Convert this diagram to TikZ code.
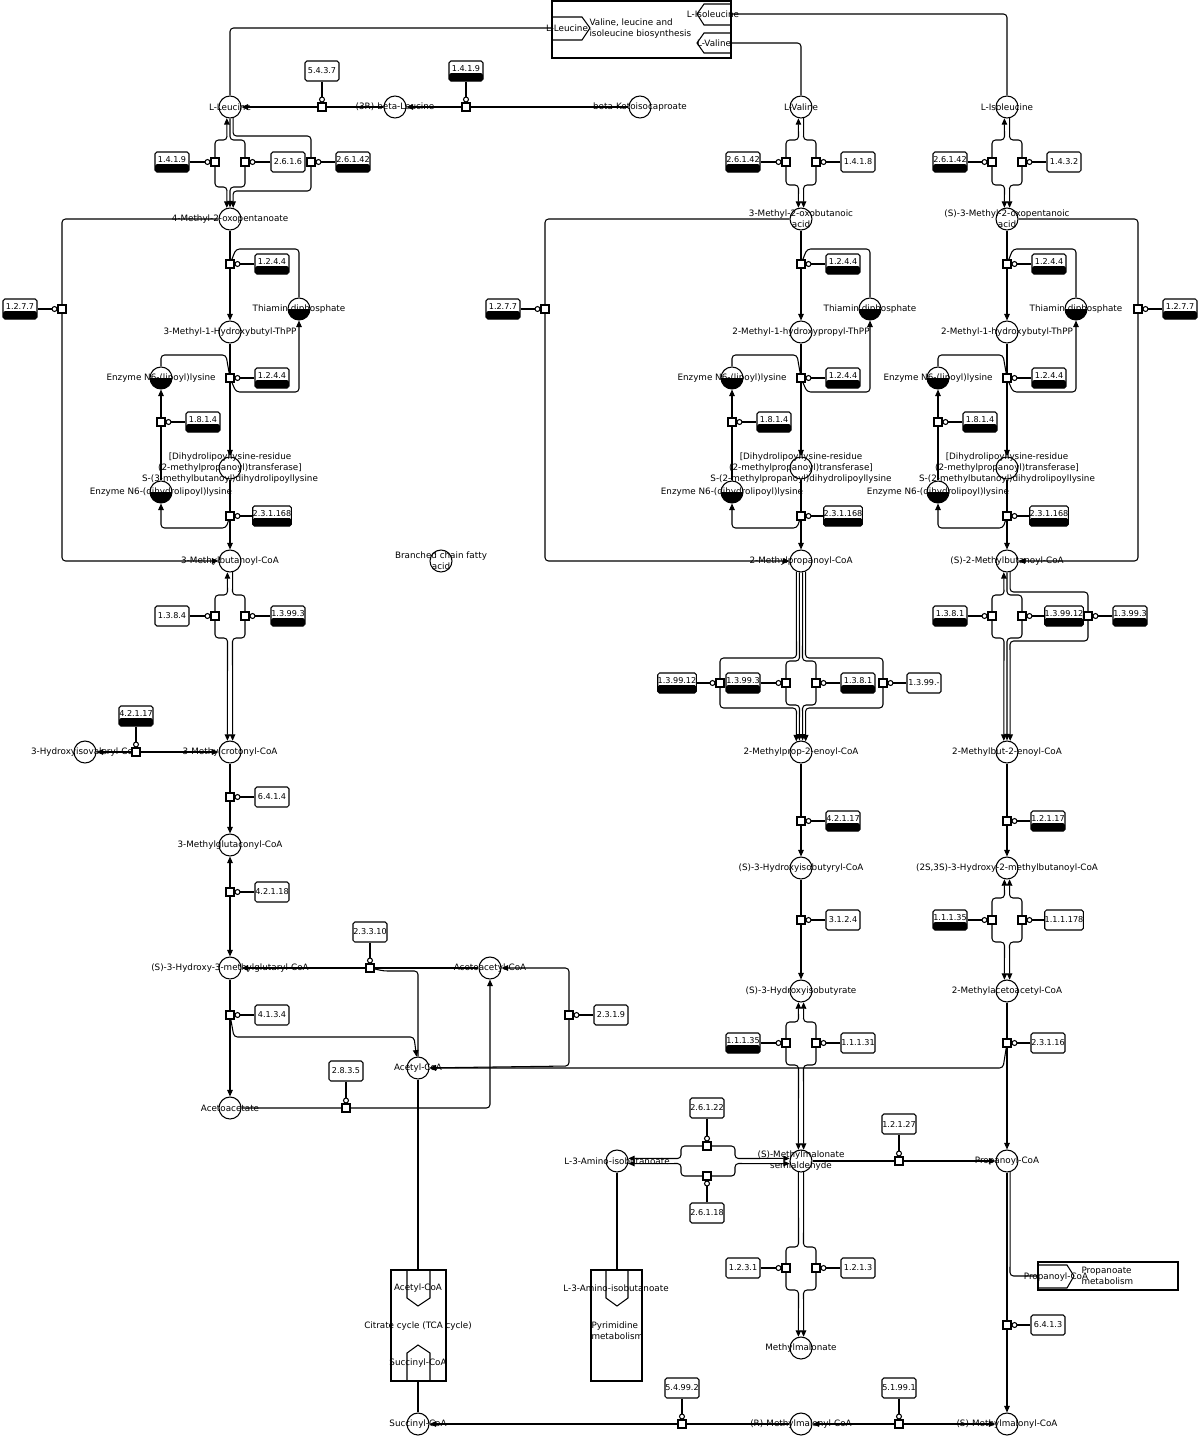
\documentclass[tikz,border=0pt]{standalone}
\usepackage{fontspec}
\setmainfont{DejaVu Sans}
\usetikzlibrary{arrows.meta}
\newcommand\pwfont{\fontsize{5}{6.2}\selectfont}
\newcommand\ecfont{\fontsize{4.6}{5.5}\selectfont}

\begin{document}
\begin{tikzpicture}[x=0.02cm,y=-0.02cm,line width=0.6pt,
  every node/.append style={font=\pwfont},
  >={Triangle[length=0.13cm,width=0.11cm]},
  cpd/.style={circle,draw,minimum size=0.44cm,inner sep=0pt},
  half/.style={cpd,path picture={\fill (path picture bounding box.west) rectangle (path picture bounding box.south east);}},
  enz/.style={draw,rounded corners=1pt,minimum width=0.68cm,minimum height=0.4cm,inner sep=0pt,font=\ecfont},
  enzb/.style={enz,text height=3.4pt,text depth=2.4pt,path picture={\fill (path picture bounding box.south west) rectangle ([yshift=0.16cm]path picture bounding box.south east);}},
  rxn/.style={draw,fill=white,minimum size=0.16cm,inner sep=0pt},
  mod/.style={-{Circle[open,length=0.12cm]}},
  br/.style={rounded corners=2pt}]
\useasboundingbox (0,0) rectangle (1200,1437);

% map links
\draw (552,1) rectangle (731,58);
\draw (552,17) -- (582,17) -- (590,28) -- (582,40) -- (552,40);
\draw (731,4) -- (704,4) -- (697,14) -- (704,25) -- (731,25);
\draw (731,33) -- (704,33) -- (697,43) -- (704,53) -- (731,53);
\node (tLeu) at (567,28) {L-Leucine};
\node (tIle) at (713,14) {L-Isoleucine};
\node (tVal) at (714,43) {L-Valine};
\node[anchor=west,align=left,inner sep=0pt] (mapVLI) at (589,29) {Valine, leucine and\\isoleucine biosynthesis};
\coordinate (inLeu) at (552,28);
\coordinate (outIle) at (731,14);
\coordinate (outVal) at (731,43);

\draw (391,1270) rectangle (446,1381);
\draw (407,1270) -- (407,1298) -- (418,1306) -- (430,1298) -- (430,1270);
\draw (407,1381) -- (407,1353) -- (418,1345) -- (430,1353) -- (430,1381);
\node (tAcCoA) at (418,1288) {Acetyl-CoA};
\node (tSucc) at (418,1363) {Succinyl-CoA};
\node (tca) at (418,1326) {Citrate cycle (TCA cycle)};
\coordinate (tcaIn) at (418,1270);
\coordinate (tcaOut) at (418,1381);

\draw (591,1270) rectangle (642,1381);
\draw (606,1270) -- (606,1298) -- (617,1306) -- (628,1298) -- (628,1270);
\node (tAib) at (616,1288) {L-3-Amino-isobutanoate};
\node[anchor=west,align=left,inner sep=0pt] (pyr) at (591,1331) {Pyrimidine\\metabolism};
\coordinate (pyrIn) at (617,1270);

\draw (1038,1262) rectangle (1178,1290);
\draw (1038,1265) -- (1067,1265) -- (1074,1276) -- (1067,1288) -- (1038,1288);
\node (tProp) at (1056,1277) {Propanoyl-CoA};
\node[anchor=west,align=left,inner sep=0pt] (propm) at (1081,1276) {Propanoate\\metabolism};
\coordinate (inProp) at (1038,1276);

% compounds
\node[cpd,label={center:L-Leucine}] (leu) at (230,107) {};
\node[cpd,label={center:{(3R)-beta-Leucine}}] (bleu) at (395,107) {};
\node[cpd,label={center:beta-Ketoisocaproate}] (kic) at (640,107) {};
\node[cpd,label={center:L-Valine}] (val) at (801,107) {};
\node[cpd,label={center:L-Isoleucine}] (ile) at (1007,107) {};
\node[cpd,label={center:4-Methyl-2-oxopentanoate}] (koA) at (230,219) {};
\node[cpd,label={[align=center]center:{3-Methyl-2-oxobutanoic\\acid}}] (koB) at (801,219) {};
\node[cpd,label={[align=center]center:{(S)-3-Methyl-2-oxopentanoic\\acid}}] (koC) at (1007,219) {};
\node[cpd,label={center:3-Methylbutanoyl-CoA}] (acA) at (230,561) {};
\node[cpd,label={center:2-Methylpropanoyl-CoA}] (acB) at (801,561) {};
\node[cpd,label={center:{(S)-2-Methylbutanoyl-CoA}}] (acC) at (1007,561) {};
\node[cpd,label={[align=center]center:{Branched chain fatty\\acid}}] (bcfa) at (441,561) {};
\node[cpd,label={center:3-Methylcrotonyl-CoA}] (mcc) at (230,752) {};
\node[cpd,label={center:3-Hydroxyisovaleryl-CoA}] (hiv) at (85,752) {};
\node[cpd,label={center:3-Methylglutaconyl-CoA}] (mgc) at (230,845) {};
\node[cpd,label={center:{(S)-3-Hydroxy-3-methylglutaryl-CoA}}] (hmg) at (230,968) {};
\node[cpd,label={center:Acetoacetyl-CoA}] (aacoa) at (490,968) {};
\node[cpd,label={center:Acetyl-CoA}] (acoa) at (418,1068) {};
\node[cpd,label={center:Acetoacetate}] (aca) at (230,1108) {};
\node[cpd,label={center:Succinyl-CoA}] (succ) at (418,1424) {};
\node[cpd,label={center:2-Methylprop-2-enoyl-CoA}] (mpe) at (801,752) {};
\node[cpd,label={center:{(S)-3-Hydroxyisobutyryl-CoA}}] (hibcoa) at (801,868) {};
\node[cpd,label={center:{(S)-3-Hydroxyisobutyrate}}] (hib) at (801,991) {};
\node[cpd,label={[align=center]center:{(S)-Methylmalonate\\semialdehyde}}] (mmsa) at (801,1161) {};
\node[cpd,label={center:L-3-Amino-isobutanoate}] (aib) at (617,1161) {};
\node[cpd,label={center:Methylmalonate}] (mma) at (801,1348) {};
\node[cpd,label={center:{(R)-Methylmalonyl-CoA}}] (rmm) at (801,1424) {};
\node[cpd,label={center:2-Methylbut-2-enoyl-CoA}] (mbe) at (1007,752) {};
\node[cpd,label={center:{(2S,3S)-3-Hydroxy-2-methylbutanoyl-CoA}}] (hmb) at (1007,868) {};
\node[cpd,label={center:2-Methylacetoacetyl-CoA}] (mac) at (1007,991) {};
\node[cpd,label={center:Propanoyl-CoA}] (ppcoa) at (1007,1161) {};
\node[cpd,label={center:{(S)-Methylmalonyl-CoA}}] (smm) at (1007,1424) {};

% enzymes
\foreach \n/\x/\y/\t in {e1419a/466/71/1.4.1.9, e1419b/172/162/1.4.1.9, e26142a/353/162/2.6.1.42,
  e1277a/20/309/1.2.7.7, e13993a/288/616/1.3.99.3, e42117a/136/716/4.2.1.17,
  e26142b/743/162/2.6.1.42, e1277b/503/309/1.2.7.7, e139912a/677/683/1.3.99.12,
  e13993b/743/683/1.3.99.3, e1381a/858/683/1.3.8.1, e42117b/843/821/4.2.1.17,
  e11135a/743/1043/1.1.1.35, e26142c/950/162/2.6.1.42, e1277c/1180/309/1.2.7.7,
  e1381b/950/616/1.3.8.1, e139912b/1064/616/1.3.99.12, e13993c/1130/616/1.3.99.3,
  e12117/1048/821/1.2.1.17, e11135b/950/920/1.1.1.35}
  \node[enzb] (\n) at (\x,\y) {\t};
\foreach \n/\x/\y/\t in {e5437/322/71/5.4.3.7, e2616/288/162/2.6.1.6, e1384/172/616/1.3.8.4,
  e6414/272/797/6.4.1.4, e42118/272/892/4.2.1.18, e23310/370/932/2.3.3.10,
  e4134/272/1015/4.1.3.4, e2319/611/1015/2.3.1.9, e2835/346/1071/2.8.3.5,
  e1418/858/162/1.4.1.8, e1399x/924/683/1.3.99.-, e3124/843/920/3.1.2.4,
  e11131/858/1043/1.1.1.31, e26122/707/1108/2.6.1.22, e26118/707/1213/2.6.1.18,
  e12127/899/1124/1.2.1.27, e1231/743/1268/1.2.3.1, e1213/858/1268/1.2.1.3,
  e54992/682/1388/5.4.99.2, e51991/899/1388/5.1.99.1, e1432/1064/162/1.4.3.2,
  e111178/1064/920/1.1.1.178, e23116/1048/1043/2.3.1.16, e6413/1048/1325/6.4.1.3}
  \node[enz] (\n) at (\x,\y) {\t};

% links to the maps
\draw[br] (leu) |- (inLeu);
\draw[br] (outIle) -| (ile);
\draw[br] (outVal) -| (val);
\draw (acoa) -- (tcaIn);
\draw (tcaOut) -- (succ);
\draw (aib) -- (pyrIn);
\draw[br] (ppcoa.-74) -- (1010,1276) -- (inProp);

% leucine
\draw[->] (bleu) -- (leu);
\draw[->] (kic) -- (bleu);
\draw[br,<->] (leu.-106) -- (227,140) -- (215,140) -- (215,187) -- (227,187) -- (koA.106);
\draw[br,->] (leu.south) -- (230,140) -- (245,140) -- (245,187) -- (230,187) -- (koA.north);
\draw[br,->] (leu.-74) -- (233,136) -- (311,136) -- (311,191) -- (233,191) -- (koA.74);
\draw[br,->] (koA) -- (62,219) -- (62,561) -- (acA);
\draw[br,<->] (acA.-103) -- (227.5,595) -- (215,595) -- (215,638) -- (227.5,638) -- (mcc.103);
\draw[br,->] (acA.-77) -- (232.5,595) -- (245,595) -- (245,638) -- (232.5,638) -- (mcc.77);
\draw[<->] (hiv) -- (mcc);
\draw[->] (mcc) -- (mgc);
\draw[<->] (mgc) -- (hmg);
\draw[->] (hmg) -- (aca);
\draw[->] (aacoa) -- (hmg);
\draw[br,<->] (aacoa) -- (569,968) -- (569,1066) -- (acoa);
\draw[br,->] (aca) -- (490,1108) -- (aacoa);

% valine
\draw[br,<->] (val.-103) -- (798.5,140) -- (786,140) -- (786,185) -- (798.5,185) -- (koB.103);
\draw[br,->] (val.-77) -- (803.5,140) -- (816,140) -- (816,185) -- (803.5,185) -- (koB.77);
\draw[br,->] (koB) -- (545,219) -- (545,561) -- (acB);
\draw[br,->] (acB.-114) -- (796.5,658) -- (720,658) -- (720,708) -- (796.5,708) -- (mpe.114);
\draw[br,->] (acB.-98) -- (799.5,661) -- (786,661) -- (786,705) -- (799.5,705) -- (mpe.98);
\draw[br,->] (acB.-82) -- (802.5,661) -- (816,661) -- (816,705) -- (802.5,705) -- (mpe.82);
\draw[br,->] (acB.-66) -- (805.5,658) -- (883,658) -- (883,708) -- (805.5,708) -- (mpe.66);
\draw[->] (mpe) -- (hibcoa);
\draw[->] (hibcoa) -- (hib);
\draw[br,<->] (hib.-103) -- (798.5,1022) -- (786,1022) -- (786,1065) -- (798.5,1065) -- (mmsa.103);
\draw[br,<->] (hib.-77) -- (803.5,1022) -- (816,1022) -- (816,1065) -- (803.5,1065) -- (mmsa.77);
\draw[br,<->] (mmsa.167) -- (735,1158.5) -- (735,1146) -- (681,1146) -- (681,1158.5) -- (aib.13);
\draw[br,<->] (mmsa.193) -- (735,1163.5) -- (735,1176) -- (681,1176) -- (681,1163.5) -- (aib.-13);
\draw[br,->] (mmsa.-103) -- (798.5,1247) -- (786,1247) -- (786,1290) -- (798.5,1290) -- (mma.103);
\draw[br,->] (mmsa.-77) -- (803.5,1247) -- (816,1247) -- (816,1290) -- (803.5,1290) -- (mma.77);
\draw[->] (mmsa) -- (ppcoa);

% isoleucine
\draw[br,<->] (ile.-103) -- (1004.5,140) -- (992,140) -- (992,185) -- (1004.5,185) -- (koC.103);
\draw[br,->] (ile.-77) -- (1009.5,140) -- (1022,140) -- (1022,185) -- (1009.5,185) -- (koC.77);
\draw[br,->] (koC) -- (1138,219) -- (1138,561) -- (acC);
\draw[br,<->] (acC.-106) -- (1004,595) -- (992,595) -- (992,638) -- (1004,638) -- (mbe.106);
\draw[br,->] (acC.south) -- (1007,595) -- (1022,595) -- (1022,638) -- (1007,638) -- (mbe.north);
\draw[br,->] (acC.-74) -- (1010,592) -- (1088,592) -- (1088,641) -- (1010,641) -- (mbe.74);
\draw[->] (mbe) -- (hmb);
\draw[br,<->] (hmb.-103) -- (1004.5,898) -- (992,898) -- (992,942) -- (1004.5,942) -- (mac.103);
\draw[br,<->] (hmb.-77) -- (1009.5,898) -- (1022,898) -- (1022,942) -- (1009.5,942) -- (mac.77);
\draw[->] (mac) -- (ppcoa);
\draw[->] (ppcoa) -- (smm);
\draw[<->] (smm) -- (rmm);
\draw[->] (rmm) -- (succ);

% decarboxylation steps, same in all three columns
\foreach \c/\dx/\hbl/\acyl in {A/0/3-Methyl-1-Hydroxybutyl-ThPP/3-methylbutanoyl,
    B/571/2-Methyl-1-hydroxypropyl-ThPP/2-methylpropanoyl,
    C/777/2-Methyl-1-hydroxybutyl-ThPP/2-methylbutanoyl}{
  \begin{scope}[shift={(\dx,0)}]
  \node[half,label={center:Thiamin diphosphate}] (th\c) at (299,309) {};
  \node[cpd,label={center:\hbl}] (hb\c) at (230,332) {};
  \node[half,label={center:Enzyme N6-(lipoyl)lysine}] (lip\c) at (161,378) {};
  \node[cpd,label={[align=center]center:{[Dihydrolipoyllysine-residue\\(2-methylpropanoyl)transferase]\\S-(\acyl)dihydrolipoyllysine}}] (dh\c) at (230,468) {};
  \node[half,label={center:Enzyme N6-(dihydrolipoyl)lysine}] (dlip\c) at (161,492) {};
  \node[enzb] (eth1\c) at (272,264) {1.2.4.4};
  \node[enzb] (eth2\c) at (272,378) {1.2.4.4};
  \node[enzb] (elip\c) at (203,422) {1.8.1.4};
  \node[enzb] (eacyl\c) at (272,516) {2.3.1.168};
  \draw[->] (ko\c) -- (hb\c);
  \draw[->] (hb\c) -- (dh\c);
  \draw[->] (dh\c) -- (ac\c);
  \draw[->] (dlip\c) -- (lip\c);
  \node[rxn] (rth1\c) at (230,264) {};
  \node[rxn] (rth2\c) at (230,378) {};
  \node[rxn] (rlip\c) at (161,422) {};
  \node[rxn] (racyl\c) at (230,516) {};
  \draw[mod] (eth1\c) -- (rth1\c);
  \draw[mod] (eth2\c) -- (rth2\c);
  \draw[mod] (elip\c) -- (rlip\c);
  \draw[mod] (eacyl\c) -- (racyl\c);
  \draw[br] (th\c) -- (299,249) -- (236,249) -- (rth1\c);
  \draw[br,->] (rth2\c) -- (236,392) -- (299,392) -- (th\c);
  \draw[br] (lip\c) -- (161,355) -- (226,355) -- (rth2\c);
  \draw[br,->] (racyl\c) -- (226,528) -- (161,528) -- (dlip\c);
  \end{scope}}

% reaction squares and their enzymes
\foreach \r/\x/\y/\e in {r5437/322/107/e5437, r1419a/466/107/e1419a, r1419b/215/162/e1419b,
  r2616/245/162/e2616, r26142a/311/162/e26142a, r1277a/62/309/e1277a,
  r1384/215/616/e1384, r13993a/245/616/e13993a, r42117a/136/752/e42117a,
  r6414/230/797/e6414, r42118/230/892/e42118, r23310/370/968/e23310,
  r4134/230/1015/e4134, r2319/569/1015/e2319, r2835/346/1108/e2835,
  r26142b/786/162/e26142b, r1418/816/162/e1418, r1277b/545/309/e1277b,
  r139912a/720/683/e139912a, r13993b/786/683/e13993b, r1381a/816/683/e1381a,
  r1399x/883/683/e1399x, r42117b/801/821/e42117b, r3124/801/920/e3124,
  r11135a/786/1043/e11135a, r11131/816/1043/e11131, r26122/707/1146/e26122,
  r26118/707/1176/e26118, r12127/899/1161/e12127, r1231/786/1268/e1231,
  r1213/816/1268/e1213, r54992/682/1424/e54992, r51991/899/1424/e51991,
  r26142c/992/162/e26142c, r1432/1022/162/e1432, r1277c/1138/309/e1277c,
  r1381b/992/616/e1381b, r139912b/1022/616/e139912b, r13993c/1088/616/e13993c,
  r12117/1007/821/e12117, r11135b/992/920/e11135b, r111178/1022/920/e111178,
  r23116/1007/1043/e23116, r6413/1007/1325/e6413}{
  \node[rxn] (\r) at (\x,\y) {};
  \draw[mod] (\e) -- (\r);
}

% side products
\draw[br,->] (r4134) -- (234,1037) -- (414,1037) -- (acoa);
\draw[br] (r23310) -- (384,971) -- (418,971) -- (acoa);
\draw[br,->] (r23116) -- (1003,1068) -- (acoa);
\end{tikzpicture}
\end{document}
